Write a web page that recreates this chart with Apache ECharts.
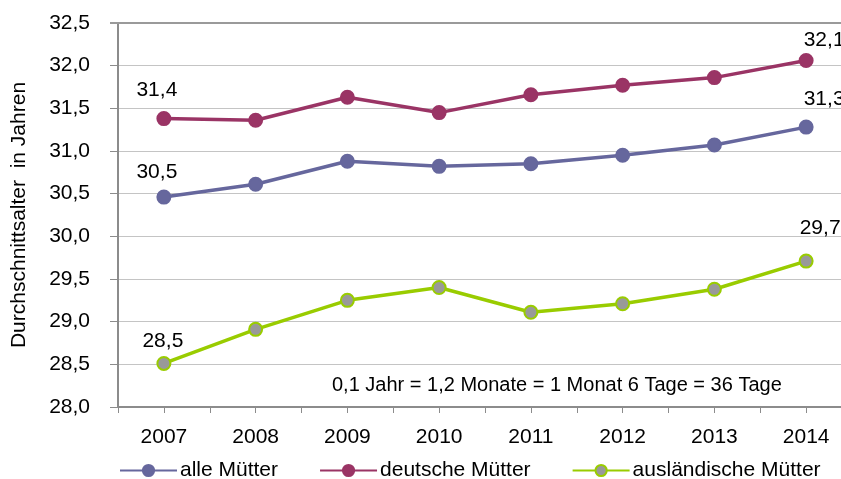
<!DOCTYPE html>
<html>
<head>
<meta charset="utf-8">
<script src="https://cdn.jsdelivr.net/npm/echarts@6/dist/echarts.min.js"></script>
<style>
  html, body { margin: 0; padding: 0; background: #fff; }
  #chart { width: 841px; height: 479px; }
</style>
</head>
<body>
<div id="chart"></div>
<script>
const years = ['2007', '2008', '2009', '2010', '2011', '2012', '2013', '2014']
const alleMuetter = [30.46, 30.61, 30.88, 30.82, 30.85, 30.95, 31.07, 31.28]
const deutscheMuetter = [31.38, 31.36, 31.63, 31.45, 31.66, 31.77, 31.86, 32.06]
const auslMuetter = [28.51, 28.91, 29.25, 29.40, 29.11, 29.21, 29.38, 29.71]
const seriesNames = ['alle Mütter', 'deutsche Mütter', 'ausländische Mütter']
const note = '0,1 Jahr = 1,2 Monate = 1 Monat 6 Tage = 36 Tage'

const fmt = v => v.toFixed(1).replace('.', ',')
const font = 'Liberation Sans, Arial, sans-serif'

// only first and last points get a value label, placed like in the original
function withLabels(values, firstOffset, lastOffset) {
  return values.map((v, i) => {
    if (i === 0) return { value: v, label: { show: true, offset: firstOffset } }
    if (i === values.length - 1) return { value: v, label: { show: true, offset: lastOffset } }
    return v
  })
}

function makeSeries(name, values, lineColor, fillColor, firstOffset, lastOffset) {
  return {
    name: name,
    type: 'line',
    data: withLabels(values, firstOffset, lastOffset),
    symbol: 'circle',
    symbolSize: 13,
    lineStyle: { color: lineColor, width: 3.5 },
    itemStyle: { color: fillColor, borderColor: lineColor, borderWidth: 2 },
    label: {
      show: false,
      position: 'top',
      color: '#000',
      fontSize: 21,
      fontFamily: font,
      formatter: p => fmt(p.value)
    },
    emphasis: { disabled: true },
    animation: false
  }
}

const myChart = echarts.init(document.getElementById('chart'))
const option = {
  textStyle: { fontFamily: font },
  // plot area runs a little past the right edge, like the original
  grid: { left: 118, width: 734, top: 23, height: 384, outerBoundsMode: 'none' },
  legend: {
    data: seriesNames,
    left: 114,
    top: 455,
    itemWidth: 57,
    itemHeight: 14,
    itemGap: 41,
    textStyle: { fontSize: 21, color: '#000', fontFamily: font, padding: [0, 0, 0, -2] }
  },
  xAxis: [
    {
      type: 'category',
      data: years,
      boundaryGap: true,
      axisLine: { lineStyle: { color: '#8c8c8c', width: 2 } },
      axisTick: { show: true, length: 6, lineStyle: { color: '#8c8c8c' } },
      axisLabel: { color: '#000', fontSize: 21, margin: 20 }
    },
    {
      // extra ticks at category centres
      type: 'category',
      position: 'bottom',
      data: years.flatMap(y => [y + 'a', y + 'b']),
      axisLine: { show: false },
      axisTick: { show: true, length: 6, interval: 0, lineStyle: { color: '#8c8c8c' } },
      axisLabel: { show: false },
      splitLine: { show: false }
    }
  ],
  yAxis: {
    type: 'value',
    min: 28,
    max: 32.5,
    interval: 0.5,
    name: 'Durchschnittsalter  in Jahren',
    nameLocation: 'middle',
    nameGap: 88,
    nameRotate: 90,
    nameTextStyle: { color: '#000', fontSize: 21 },
    axisLine: { show: true, lineStyle: { color: '#8c8c8c', width: 2 } },
    axisTick: { show: true, length: 8, lineStyle: { color: '#8c8c8c' } },
    axisLabel: { color: '#000', fontSize: 21, margin: 28, formatter: v => fmt(v) },
    splitLine: { show: true, lineStyle: { color: '#c4c4c4', width: 1 } }
  },
  graphic: [
    {
      type: 'text',
      x: 332,
      y: 385,
      style: { text: note, fontSize: 20, fill: '#000', fontFamily: font, verticalAlign: 'middle' }
    },
    {
      type: 'line',
      shape: { x1: 110, y1: 23, x2: 841, y2: 23 },
      style: { stroke: '#9a9a9a', lineWidth: 2 },
      z: 10
    }
  ],
  series: [
    makeSeries(seriesNames[0], alleMuetter, '#66679d', '#66679d', [-7, -2], [18, -5]),
    makeSeries(seriesNames[1], deutscheMuetter, '#9a3465', '#9a3465', [-7, -5], [18, 3]),
    makeSeries(seriesNames[2], auslMuetter, '#99cc00', '#999999', [-1, 1], [14, -10])
  ]
}
myChart.setOption(option)
</script>
</body>
</html>
